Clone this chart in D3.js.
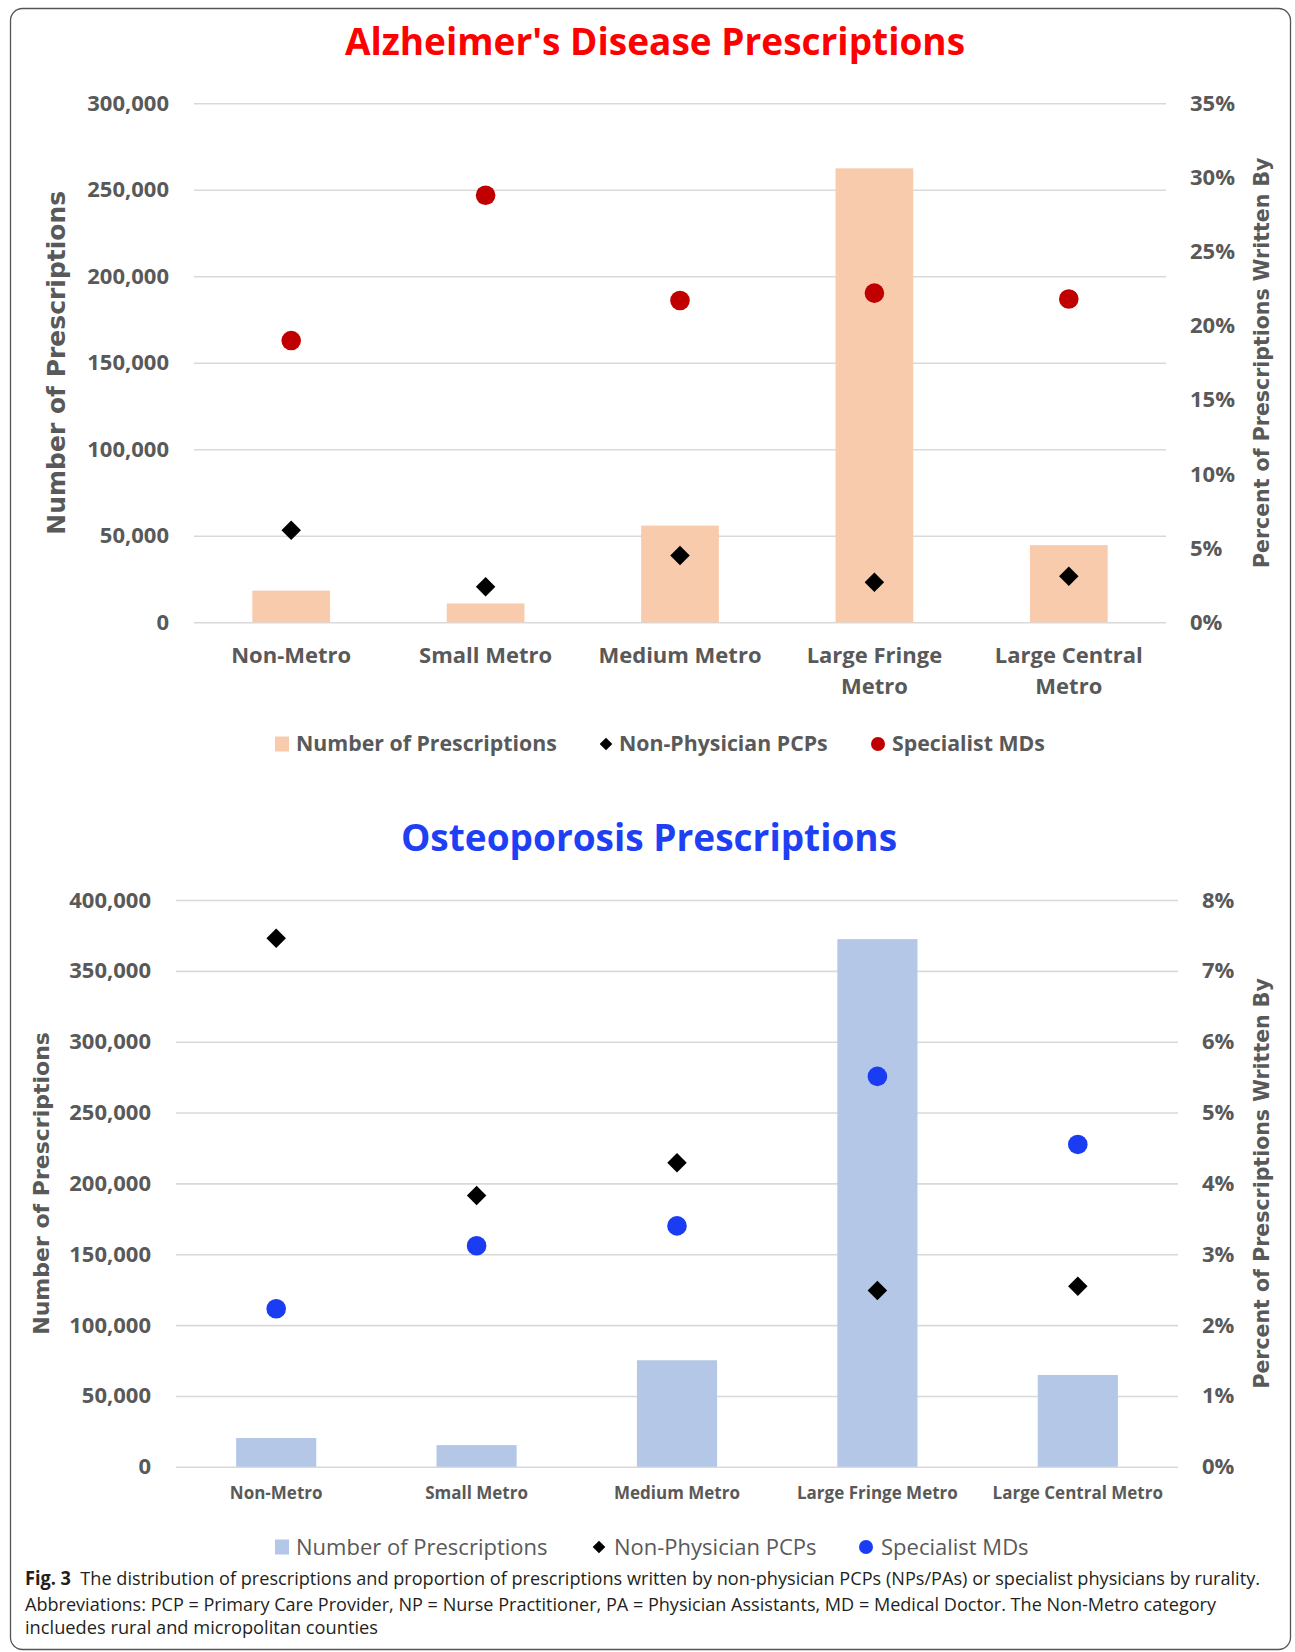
<!DOCTYPE html>
<html>
<head>
<meta charset="utf-8">
<script src="https://cdn.jsdelivr.net/npm/d3@7"></script>
<style>
  body { margin: 0; background: #fff; }
  svg text { font-family: "Open Sans", sans-serif; }
</style>
</head>
<body>
<svg id="fig" width="1295" height="1652"></svg>
<script>
// categories / tick labels
var categories = ["Non-Metro", "Small Metro", "Medium Metro", "Large Fringe Metro", "Large Central Metro"];
var alzLabels = [["Non-Metro"], ["Small Metro"], ["Medium Metro"], ["Large Fringe", "Metro"], ["Large Central", "Metro"]];
var ostLabels = [["Non-Metro"], ["Small Metro"], ["Medium Metro"], ["Large Fringe Metro"], ["Large Central Metro"]];

// Alzheimer's
var alzCount = [18300, 10900, 55900, 262400, 44600];
var alzNonPhys = [6.2, 2.4, 4.5, 2.7, 3.1];
var alzSpecialist = [19.0, 28.8, 21.7, 22.2, 21.8];
var alzCountTicks = [0, 50000, 100000, 150000, 200000, 250000, 300000];
var alzPctTicks = [0, 5, 10, 15, 20, 25, 30, 35];

// Osteoporosis
var ostCount = [20300, 15300, 75200, 372400, 64800];
var ostNonPhys = [7.46, 3.83, 4.29, 2.49, 2.55];
var ostSpecialist = [2.23, 3.12, 3.40, 5.51, 4.55];
var ostCountTicks = [0, 50000, 100000, 150000, 200000, 250000, 300000, 350000, 400000];
var ostPctTicks = [0, 1, 2, 3, 4, 5, 6, 7, 8];

var legendNames = ["Number of Prescriptions", "Non-Physician PCPs", "Specialist MDs"];

var grey = "#595959";
var svg = d3.select("#fig");

// outer frame
svg.append("rect")
    .attr("x", 10.5).attr("y", 8.5)
    .attr("width", 1280).attr("height", 1641)
    .attr("rx", 12)
    .attr("fill", "none")
    .attr("stroke", "#555")
    .attr("stroke-width", 1.3);

function drawChart(o) {
    var g = svg.append("g");
    var width = o.right - o.left;

    var x = d3.scaleBand().domain(categories).range([o.left, o.right]).paddingInner(0.6).paddingOuter(0.3);
    var yL = d3.scaleLinear().domain(o.countDomain).range([o.bottom, o.top]);
    var yR = d3.scaleLinear().domain(o.pctDomain).range([o.bottom, o.top]);

    // title
    g.append("text")
        .attr("x", o.titleX).attr("y", o.titleY)
        .attr("text-anchor", "middle")
        .style("font-size", "37px").style("font-weight", 700)
        .style("fill", o.titleColor)
        .text(o.title);

    // gridlines
    var grid = g.append("g")
        .attr("transform", "translate(" + o.left + ",0)")
        .call(d3.axisLeft(yL).tickValues(o.countTicks).tickSize(-width).tickFormat(""));
    grid.select(".domain").remove();
    grid.selectAll("line").attr("stroke", "#d9d9d9").attr("stroke-width", 1.6);

    // left axis labels
    var la = g.append("g")
        .attr("transform", "translate(" + o.left + ",0)")
        .call(d3.axisLeft(yL).tickValues(o.countTicks).tickSize(0).tickPadding(25).tickFormat(d3.format(",")));
    la.select(".domain").remove();
    la.selectAll("text").style("font-size", "22px").style("font-weight", 700).style("fill", grey)
        .style("font-family", "'Open Sans', sans-serif");

    // right axis labels
    var ra = g.append("g")
        .attr("transform", "translate(" + o.right + ",0)")
        .call(d3.axisRight(yR).tickValues(o.pctTicks).tickSize(0).tickPadding(24).tickFormat(function (d) { return d + "%"; }));
    ra.select(".domain").remove();
    ra.selectAll("text").style("font-size", "22px").style("font-weight", 700).style("fill", grey)
        .style("font-family", "'Open Sans', sans-serif");

    // axis titles
    g.append("text")
        .attr("transform", "translate(" + o.leftTitleX + "," + (o.top + o.bottom) / 2 + ") rotate(-90)")
        .attr("text-anchor", "middle").attr("dy", "0.35em")
        .style("font-family", "'DejaVu Sans', sans-serif")
        .style("font-size", o.leftTitleSize + "px").style("font-weight", 700).style("fill", grey)
        .text("Number of Prescriptions");
    g.append("text")
        .attr("transform", "translate(" + o.rightTitleX + "," + (o.top + o.bottom) / 2 + ") rotate(-90)")
        .attr("text-anchor", "middle").attr("dy", "0.35em")
        .style("font-family", "'DejaVu Sans', sans-serif")
        .style("font-size", "20.5px").style("font-weight", 700).style("fill", grey)
        .text("Percent of Prescriptions Written By");

    // category labels
    categories.forEach(function (c, i) {
        var t = g.append("text")
            .attr("x", x(c) + x.bandwidth() / 2)
            .attr("y", o.bottom + o.catOffset)
            .attr("text-anchor", "middle")
            .style("font-size", o.catSize + "px").style("font-weight", 700).style("fill", grey);
        o.labels[i].forEach(function (line, j) {
            t.append("tspan")
                .attr("x", x(c) + x.bandwidth() / 2)
                .attr("dy", j === 0 ? 0 : o.catLine)
                .text(line);
        });
    });

    // bars
    g.selectAll(".bar")
        .data(o.count)
        .enter().append("rect")
        .attr("x", function (d, i) { return x(categories[i]); })
        .attr("y", function (d) { return yL(d); })
        .attr("width", x.bandwidth())
        .attr("height", function (d) { return yL(0) - yL(d); })
        .attr("fill", o.barColor);

    // specialist dots
    g.selectAll(".dot")
        .data(o.specialist)
        .enter().append("circle")
        .attr("cx", function (d, i) { return x(categories[i]) + x.bandwidth() / 2; })
        .attr("cy", function (d) { return yR(d); })
        .attr("r", 9.8)
        .attr("fill", o.dotColor);

    // non-physician diamonds
    var diamond = d3.symbol().type(d3.symbolSquare).size(190);
    g.selectAll(".dia")
        .data(o.nonPhys)
        .enter().append("path")
        .attr("d", diamond)
        .attr("transform", function (d, i) {
            return "translate(" + (x(categories[i]) + x.bandwidth() / 2) + "," + yR(d) + ") rotate(45)";
        })
        .attr("fill", "#000");

    // legend
    var lg = g.append("g").attr("transform", "translate(0," + o.legendY + ")");
    lg.append("rect").attr("x", o.legendX[0]).attr("y", -7.5).attr("width", 14).attr("height", 15).attr("fill", o.barColor);
    lg.append("path").attr("d", d3.symbol().type(d3.symbolSquare).size(80))
        .attr("transform", "translate(" + o.legendX[1] + ",0) rotate(45)").attr("fill", "#000");
    lg.append("circle").attr("cx", o.legendX[2]).attr("cy", 0).attr("r", 7).attr("fill", o.dotColor);
    legendNames.forEach(function (n, i) {
        lg.append("text")
            .attr("x", o.legendTextX[i]).attr("y", 0).attr("dy", "0.35em")
            .style("font-size", o.legendSize + "px")
            .style("font-weight", o.legendWeight)
            .style("fill", grey)
            .text(n);
    });
}

drawChart({
    title: "Alzheimer's Disease Prescriptions", titleColor: "#ff0000", titleX: 655, titleY: 55,
    left: 194, right: 1166, top: 103.3, bottom: 622.3,
    countDomain: [0, 300000], pctDomain: [0, 35],
    countTicks: alzCountTicks, pctTicks: alzPctTicks,
    count: alzCount, nonPhys: alzNonPhys, specialist: alzSpecialist,
    labels: alzLabels, catOffset: 41, catSize: 22, catLine: 31,
    barColor: "#f8cbad", dotColor: "#c00000",
    leftTitleX: 56, leftTitleSize: 25, rightTitleX: 1262,
    legendY: 744, legendX: [275, 606, 878], legendTextX: [296, 619, 892],
    legendSize: 21.3, legendWeight: 700
});

drawChart({
    title: "Osteoporosis Prescriptions", titleColor: "#1f3ff5", titleX: 649, titleY: 851,
    left: 176, right: 1178, top: 900, bottom: 1466.8,
    countDomain: [0, 400000], pctDomain: [0, 8],
    countTicks: ostCountTicks, pctTicks: ostPctTicks,
    count: ostCount, nonPhys: ostNonPhys, specialist: ostSpecialist,
    labels: ostLabels, catOffset: 32, catSize: 17, catLine: 20,
    barColor: "#b4c7e7", dotColor: "#1a3cf2",
    leftTitleX: 41, leftTitleSize: 22, rightTitleX: 1262,
    legendY: 1547, legendX: [275, 599, 866], legendTextX: [296, 614, 881],
    legendSize: 22, legendWeight: 400
});

// caption
var capLines = [
    { bold: "Fig. 3", text: "  The distribution of prescriptions and proportion of prescriptions written by non-physician PCPs (NPs/PAs) or specialist physicians by rurality.", y: 1585, len: 1235 },
    { bold: "", text: "Abbreviations: PCP = Primary Care Provider, NP = Nurse Practitioner, PA = Physician Assistants, MD = Medical Doctor. The Non-Metro category", y: 1611, len: 1191 },
    { bold: "", text: "incluedes rural and micropolitan counties", y: 1634, len: 353 }
];
capLines.forEach(function (l) {
    var t = svg.append("text")
        .attr("x", 25).attr("y", l.y)
        .attr("textLength", l.len).attr("lengthAdjust", "spacingAndGlyphs")
        .style("font-size", "19px").style("fill", "#231f20");
    if (l.bold) t.append("tspan").style("font-weight", 700).text(l.bold);
    t.append("tspan").attr("xml:space", "preserve").text(l.text);
});
</script>
</body>
</html>
